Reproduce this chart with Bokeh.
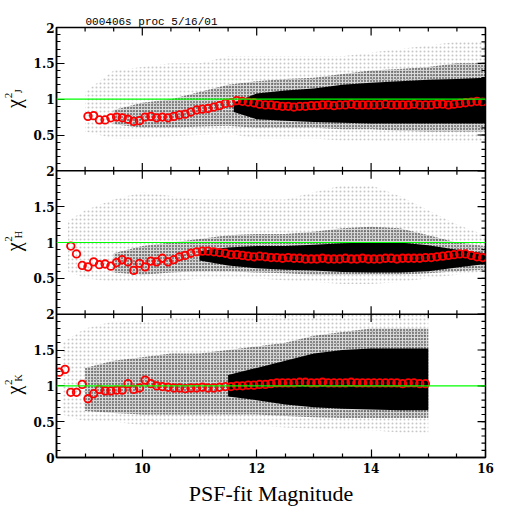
import numpy as np
from bokeh.plotting import figure
from bokeh.layouts import row, column
from bokeh.models import FixedTicker, LinearAxis, Span, Range1d, Spacer
from bokeh.core.properties import value
from bokeh.embed import file_html
from bokeh.resources import INLINE

# ---------------- data ----------------
panels = ["J", "H", "K"]
title_text = "000406s proc 5/16/01"
x_label = "PSF-fit Magnitude"

mag_J = [round(9.05 + 0.1 * i, 2) for i in range(70)]
chi2_J = [0.76, 0.77, 0.71, 0.71, 0.74, 0.75, 0.74, 0.72, 0.69, 0.70,
          0.75, 0.76, 0.74, 0.75, 0.74, 0.76, 0.78, 0.79, 0.82, 0.85,
          0.86, 0.87, 0.89, 0.91, 0.94, 0.95, 0.98, 0.97, 0.96, 0.95,
          0.93, 0.92, 0.92, 0.91, 0.90, 0.90, 0.89, 0.90, 0.90, 0.91,
          0.91, 0.92, 0.92, 0.91, 0.92, 0.92, 0.93, 0.92, 0.92, 0.92,
          0.92, 0.92, 0.93, 0.92, 0.92, 0.92, 0.92, 0.93, 0.92, 0.92,
          0.92, 0.93, 0.93, 0.92, 0.93, 0.94, 0.95, 0.96, 0.97, 0.96]

mag_H = [round(8.75 + 0.1 * i, 2) for i in range(73)]
chi2_H = [0.95, 0.84, 0.68, 0.66, 0.73, 0.69, 0.70, 0.67, 0.72, 0.76,
          0.73, 0.61, 0.71, 0.66, 0.74, 0.73, 0.78, 0.73, 0.76, 0.80,
          0.82, 0.85, 0.87, 0.88, 0.88, 0.87, 0.86, 0.85, 0.83, 0.83,
          0.82, 0.81, 0.80, 0.81, 0.80, 0.79, 0.79, 0.78, 0.79, 0.78,
          0.78, 0.77, 0.77, 0.77, 0.78, 0.77, 0.77, 0.77, 0.78, 0.77,
          0.77, 0.78, 0.77, 0.77, 0.77, 0.78, 0.78, 0.77, 0.78, 0.78,
          0.78, 0.78, 0.79, 0.79, 0.80, 0.81, 0.82, 0.83, 0.84, 0.84,
          0.82, 0.80, 0.79]

mag_K = [round(8.55 + 0.1 * i, 2) for i in range(65)]
chi2_K = [1.19, 1.23, 0.91, 0.91, 1.02, 0.82, 0.89, 0.95, 0.93, 0.93,
          0.94, 0.94, 1.03, 0.95, 0.97, 1.08, 1.03, 1.00, 0.99, 0.98,
          0.97, 0.97, 0.96, 0.97, 0.97, 0.98, 0.97, 0.97, 0.98, 0.99,
          0.99, 1.00, 1.00, 1.01, 1.01, 1.02, 1.02, 1.03, 1.04, 1.04,
          1.04, 1.04, 1.05, 1.05, 1.04, 1.04, 1.05, 1.04, 1.04, 1.04,
          1.04, 1.05, 1.04, 1.04, 1.04, 1.04, 1.04, 1.04, 1.04, 1.04,
          1.03, 1.04, 1.04, 1.03, 1.03]

# envelopes of the individual-star clouds (sparse / dense / saturated)
J_outer_mag = [9.0, 9.5, 10.0, 10.5, 11.0, 11.5, 12.0, 12.5, 13.0, 13.5, 14.0, 14.5, 15.0, 15.5, 16.0]
J_outer_lo = [0.55, 0.45, 0.45, 0.48, 0.50, 0.52, 0.45, 0.45, 0.45, 0.42, 0.42, 0.40, 0.40, 0.40, 0.40]
J_outer_hi = [1.10, 1.40, 1.45, 1.50, 1.50, 1.60, 1.60, 1.60, 1.60, 1.60, 1.65, 1.70, 1.75, 1.80, 1.80]
J_mid_mag = [9.5, 10.0, 10.5, 11.0, 11.5, 12.0, 12.5, 13.0, 13.5, 14.0, 14.5, 15.0, 15.5, 16.0]
J_mid_lo = [0.65, 0.60, 0.60, 0.62, 0.63, 0.60, 0.60, 0.60, 0.58, 0.58, 0.56, 0.55, 0.55, 0.55]
J_mid_hi = [0.85, 0.95, 1.00, 1.10, 1.20, 1.25, 1.28, 1.30, 1.35, 1.40, 1.42, 1.45, 1.50, 1.50]
J_core_mag = [11.6, 12.0, 12.5, 13.0, 13.5, 14.0, 14.5, 15.0, 15.5, 16.0]
J_core_lo = [0.82, 0.72, 0.70, 0.68, 0.67, 0.66, 0.66, 0.66, 0.66, 0.66]
J_core_hi = [0.95, 1.08, 1.12, 1.15, 1.20, 1.23, 1.25, 1.27, 1.28, 1.30]

H_outer_mag = [8.7, 9.0, 9.5, 10.0, 10.5, 11.0, 11.5, 12.0, 12.5, 13.0, 13.5, 14.0, 14.5, 15.0, 15.5, 16.0]
H_outer_lo = [0.60, 0.50, 0.45, 0.45, 0.45, 0.50, 0.50, 0.50, 0.47, 0.45, 0.42, 0.42, 0.45, 0.50, 0.55, 0.60]
H_outer_hi = [1.30, 1.45, 1.60, 1.70, 1.65, 1.60, 1.60, 1.60, 1.60, 1.70, 1.80, 1.80, 1.65, 1.45, 1.25, 1.10]
H_mid_mag = [9.5, 10.0, 10.5, 11.0, 11.5, 12.0, 12.5, 13.0, 13.5, 14.0, 14.5, 15.0, 15.5, 16.0]
H_mid_lo = [0.58, 0.55, 0.58, 0.60, 0.60, 0.58, 0.57, 0.55, 0.55, 0.55, 0.55, 0.57, 0.60, 0.62]
H_mid_hi = [0.85, 0.95, 1.00, 1.05, 1.10, 1.12, 1.12, 1.15, 1.20, 1.22, 1.20, 1.10, 1.00, 0.95]
H_core_mag = [11.0, 11.5, 12.0, 12.5, 13.0, 13.5, 14.0, 14.5, 15.0, 15.5, 16.0]
H_core_lo = [0.75, 0.68, 0.64, 0.62, 0.61, 0.59, 0.58, 0.58, 0.60, 0.65, 0.70]
H_core_hi = [0.88, 0.93, 0.95, 0.95, 0.97, 0.99, 1.00, 1.00, 0.96, 0.90, 0.85]

K_outer_mag = [8.6, 9.0, 9.5, 10.0, 10.5, 11.0, 11.5, 12.0, 12.5, 13.0, 13.5, 14.0, 14.5, 15.0]
K_outer_lo = [0.60, 0.50, 0.50, 0.45, 0.45, 0.45, 0.45, 0.45, 0.42, 0.40, 0.38, 0.38, 0.35, 0.35]
K_outer_hi = [1.60, 1.80, 1.90, 1.90, 1.95, 1.95, 1.95, 1.95, 2.00, 2.00, 2.00, 2.00, 2.00, 2.00]
K_mid_mag = [9.0, 9.5, 10.0, 10.5, 11.0, 11.5, 12.0, 12.5, 13.0, 13.5, 14.0, 14.5, 15.0]
K_mid_lo = [0.65, 0.62, 0.60, 0.60, 0.60, 0.60, 0.60, 0.58, 0.56, 0.55, 0.55, 0.55, 0.55]
K_mid_hi = [1.25, 1.35, 1.40, 1.45, 1.45, 1.50, 1.55, 1.60, 1.70, 1.75, 1.80, 1.80, 1.80]
K_core_mag = [11.5, 12.0, 12.5, 13.0, 13.5, 14.0, 14.5, 15.0]
K_core_lo = [0.85, 0.80, 0.74, 0.70, 0.68, 0.67, 0.66, 0.66]
K_core_hi = [1.15, 1.25, 1.35, 1.45, 1.50, 1.52, 1.52, 1.52]

x_major = [10, 12, 14, 16]
x_minor = [9.0, 9.5, 10.5, 11.0, 11.5, 12.5, 13.0, 13.5, 14.5, 15.0, 15.5]
y_major = [0, 0.5, 1, 1.5, 2]
reference_level = 1.0

# ---------------- layout geometry ----------------
TOP_SPACER = 13
TITLE_BORDER = 14
STRIP_W = 30
P_W = 475
P_H = 497

offsets = {"J": 4.0, "H": 2.0, "K": 0.0}
y_rng = Range1d(0, 6)
p = figure(width=P_W, height=P_H, x_range=Range1d(8.5, 16), y_range=y_rng,
           output_backend="svg", toolbar_location=None,
           x_axis_location=None, y_axis_location=None,
           min_border_left=24, min_border_right=20, min_border_top=0, min_border_bottom=53)
p.grid.visible = False
p.outline_line_color = "black"
p.outline_line_width = 1.5
p.title.text = title_text
p.title.align = "left"
p.title.offset = 29
p.title.standoff = 0
p.title.text_font = "Liberation Mono"
p.title.text_font_size = "11px"
p.title.text_font_style = "normal"
p.title.text_color = "black"

clouds = {
    "J": [(J_outer_mag, J_outer_lo, J_outer_hi), (J_mid_mag, J_mid_lo, J_mid_hi), (J_core_mag, J_core_lo, J_core_hi)],
    "H": [(H_outer_mag, H_outer_lo, H_outer_hi), (H_mid_mag, H_mid_lo, H_mid_hi), (H_core_mag, H_core_lo, H_core_hi)],
    "K": [(K_outer_mag, K_outer_lo, K_outer_hi), (K_mid_mag, K_mid_lo, K_mid_hi), (K_core_mag, K_core_lo, K_core_hi)],
}
medians = {"J": (mag_J, chi2_J), "H": (mag_H, chi2_H), "K": (mag_K, chi2_K)}

for band in panels:
    off = offsets[band]
    (om, olo, ohi), (mm, mlo, mhi), (cm, clo, chi) = clouds[band]
    # sparse fringe of stars
    p.varea(x=om, y1=[v + off for v in olo], y2=[v + off for v in ohi],
            fill_color=None, hatch_pattern="dot", hatch_color="black",
            hatch_scale=4, hatch_alpha=0.22)
    # denser body of stars
    p.varea(x=mm, y1=[v + off for v in mlo], y2=[v + off for v in mhi],
            fill_color="black", fill_alpha=0.14, hatch_pattern="dot", hatch_color="black",
            hatch_scale=3, hatch_alpha=0.95)
    # saturated core
    p.varea(x=cm, y1=[v + off for v in clo], y2=[v + off for v in chi],
            fill_color="black", fill_alpha=1)
    p.add_layout(Span(location=reference_level + off, dimension="width",
                      line_color="#00ff00", line_width=1.2))
    mx, my = medians[band]
    p.scatter(x=mx, y=[v + off for v in my], marker="circle", size=7.5,
              fill_color=None, line_color="#ff0000", line_width=1.8)

xmaj_len, xmin_len = 0.111, 0.056
ymaj_len, ymin_len = 0.139, 0.07

for b in (2.0, 4.0):
    p.add_layout(Span(location=b, dimension="width", line_color="black", line_width=1.5))
    p.segment(x0=x_major, y0=[b - xmaj_len] * len(x_major), x1=x_major, y1=[b + xmaj_len] * len(x_major),
              line_color="black", line_width=1.2)
    p.segment(x0=x_minor, y0=[b - xmin_len] * len(x_minor), x1=x_minor, y1=[b + xmin_len] * len(x_minor),
              line_color="black", line_width=1.2)

y_ticks = sorted(set([v + offsets[b] for b in panels for v in y_major]))
y_minor = [round(i * 0.1, 2) for i in range(61)]
y_labels = {}
for t in y_ticks:
    v = t % 2.0
    if t > 0 and abs(v) < 1e-9:
        v = 2.0
    y_labels[t] = ("%g" % v)

p.segment(x0=x_major, y0=[6 - xmaj_len] * len(x_major), x1=x_major, y1=[6] * len(x_major),
          line_color="black", line_width=1.2)
p.segment(x0=x_minor, y0=[6 - xmin_len] * len(x_minor), x1=x_minor, y1=[6] * len(x_minor),
          line_color="black", line_width=1.2)
p.segment(x0=[16 - ymaj_len] * len(y_ticks), y0=y_ticks, x1=[16] * len(y_ticks), y1=y_ticks,
          line_color="black", line_width=1.2)
p.segment(x0=[16 - ymin_len] * len(y_minor), y0=y_minor, x1=[16] * len(y_minor), y1=y_minor,
          line_color="black", line_width=1.2)


def style_axis(ax):
    ax.axis_line_color = "black"
    ax.axis_line_width = 1.5
    ax.major_tick_in = 8
    ax.major_tick_out = 0
    ax.minor_tick_in = 4
    ax.minor_tick_out = 0
    ax.major_tick_line_width = 1.2
    ax.minor_tick_line_width = 1.2
    ax.major_label_text_font = "DejaVu Serif"
    ax.major_label_text_font_style = "bold"
    ax.major_label_text_font_size = "12px"
    ax.major_label_text_color = "black"


left = LinearAxis(ticker=FixedTicker(ticks=y_ticks, minor_ticks=y_minor))
left.major_label_overrides = y_labels
style_axis(left)
left.major_label_standoff = 2
p.add_layout(left, "left")

bottom = LinearAxis(ticker=FixedTicker(ticks=x_major, minor_ticks=x_minor))
style_axis(bottom)
bottom.major_label_standoff = 5
bottom.axis_label = x_label
bottom.axis_label_text_font = "Liberation Serif"
bottom.axis_label_text_font_size = "22px"
bottom.axis_label_text_font_style = "normal"
bottom.axis_label_text_color = "black"
bottom.axis_label_standoff = 5
p.add_layout(bottom, "below")

# ---------------- left strip with the chi^2 labels ----------------
q = figure(width=STRIP_W, height=P_H, x_range=Range1d(0, STRIP_W), y_range=y_rng,
           output_backend="svg", toolbar_location=None,
           x_axis_location=None, y_axis_location=None,
           min_border_left=0, min_border_right=0, min_border_top=TITLE_BORDER, min_border_bottom=53)
q.grid.visible = False
q.outline_line_color = None

chi_y = [offsets[b] + 0.94 for b in panels]
sup_y = [offsets[b] + 1.05 for b in panels]
sub_y = [offsets[b] + 1.11 for b in panels]
q.text(x=[13] * 3, y=chi_y, text=["χ"] * 3, angle=np.pi / 2,
       text_align="center", text_baseline="middle",
       text_font=value("Liberation Serif"), text_font_size="20px", text_color="black")
q.text(x=[7.5] * 3, y=sup_y, text=["2"] * 3, angle=np.pi / 2,
       text_align="center", text_baseline="middle",
       text_font=value("Liberation Serif"), text_font_size="11px", text_color="black")
q.text(x=[17.5] * 3, y=sub_y, text=panels, angle=np.pi / 2,
       text_align="center", text_baseline="middle",
       text_font=value("Liberation Serif"), text_font_size="10px", text_color="black")

layout = column(Spacer(width=STRIP_W + P_W, height=TOP_SPACER), row(q, p, spacing=0), spacing=0)
open("out.html", "w").write(file_html(layout, INLINE))
